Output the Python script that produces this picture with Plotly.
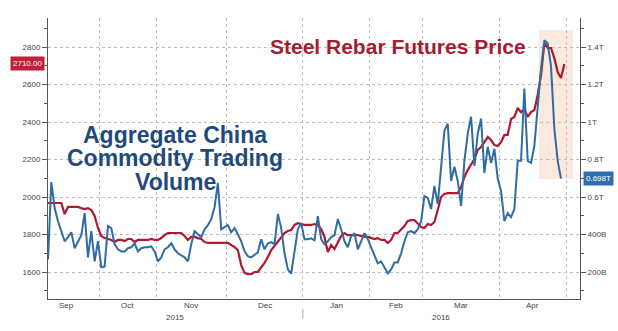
import numpy as np
import plotly.graph_objects as go

# ---------------- data ----------------
# x = trading-day index (day 0 = first plotted session, early Sep 2015)
months = ["Sep", "Oct", "Nov", "Dec", "Jan", "Feb", "Mar", "Apr"]
month_trading_days = [20, 17, 21, 23, 20, 16, 23, 20]
first_day_in_sep = 4          # data starts on the 5th trading day of September
years = ["2015", "2016"]

rebar_price = [
    1968, 1968, 1968, 1968, 1968, 1909, 1947, 1947, 1947, 1947,
    1941, 1936, 1941, 1931, 1899, 1835, 1792, 1781, 1776, 1771,
    1760, 1771, 1771, 1765, 1776, 1776, 1760, 1771, 1771, 1771,
    1771, 1776, 1771, 1771, 1781, 1797, 1808, 1808, 1808, 1808,
    1808, 1792, 1771, 1787, 1787, 1781, 1776, 1760, 1755, 1755,
    1755, 1755, 1755, 1755, 1755, 1744, 1733, 1717, 1637, 1595,
    1589, 1589, 1600, 1600, 1621, 1648, 1680, 1717, 1739, 1760,
    1781, 1808, 1819, 1824, 1851, 1861, 1856, 1851, 1851, 1851,
    1856, 1851, 1829, 1787, 1707, 1744, 1723, 1755, 1792, 1808,
    1797, 1797, 1797, 1797, 1792, 1787, 1787, 1781, 1776, 1781,
    1771, 1771, 1755, 1771, 1808, 1808, 1824, 1845, 1872, 1877,
    1877, 1856, 1840, 1835, 1856, 1851, 1867, 1931, 2000, 2016,
    2021, 2021, 2021, 2021, 2053, 2107, 2144, 2176, 2203, 2251,
    2267, 2293, 2320, 2304, 2277, 2272, 2293, 2331, 2331, 2416,
    2427, 2475, 2453, 2469, 2427, 2453, 2464, 2544, 2651, 2821,
    2795, 2795, 2741, 2667, 2635, 2710,
]

# aggregate commodity trading volume, trillions
trading_volume_t = [
    0.268, 0.680, 0.541, 0.471, 0.418, 0.364, 0.386, 0.412, 0.327, 0.359,
    0.396, 0.514, 0.278, 0.418, 0.257, 0.364, 0.225, 0.230, 0.445, 0.434,
    0.348, 0.321, 0.310, 0.310, 0.327, 0.332, 0.353, 0.310, 0.327, 0.332,
    0.332, 0.337, 0.310, 0.257, 0.278, 0.321, 0.332, 0.353, 0.321, 0.300,
    0.289, 0.278, 0.257, 0.348, 0.418, 0.402, 0.386, 0.428, 0.450, 0.482,
    0.546, 0.675, 0.428, 0.439, 0.450, 0.412, 0.434, 0.402, 0.364, 0.310,
    0.284, 0.278, 0.294, 0.305, 0.375, 0.321, 0.353, 0.359, 0.348, 0.509,
    0.434, 0.300, 0.214, 0.192, 0.310, 0.428, 0.461, 0.375, 0.375, 0.380,
    0.369, 0.498, 0.375, 0.348, 0.364, 0.386, 0.396, 0.482, 0.428, 0.364,
    0.332, 0.391, 0.407, 0.321, 0.364, 0.407, 0.375, 0.332, 0.284, 0.246,
    0.257, 0.225, 0.192, 0.214, 0.251, 0.251, 0.300, 0.364, 0.412, 0.418,
    0.407, 0.428, 0.471, 0.605, 0.595, 0.536, 0.659, 0.562, 0.766, 0.954,
    0.991, 0.686, 0.761, 0.686, 0.552, 0.793, 0.938, 1.029, 0.766, 0.938,
    1.018, 0.729, 0.868, 0.782, 0.857, 0.697, 0.632, 0.471, 0.514, 0.493,
    0.536, 0.793, 0.793, 1.179, 0.793, 0.782, 0.873, 1.072, 1.286, 1.436,
    1.420, 1.297, 0.965, 0.793, 0.698,
]

left_ticks = [1600, 1800, 2000, 2200, 2400, 2600, 2800]
right_ticks = [0.2, 0.4, 0.6, 0.8, 1.0, 1.2, 1.4]
right_tick_labels = ["200B", "400B", "0.6T", "0.8T", "1T", "1.2T", "1.4T"]

red_title = "Steel Rebar Futures Price"
blue_title_lines = ["Aggregate China", "Commodity Trading", "Volume"]

# ---------------- styling ----------------
RED = "#b0182f"
BLUE = "#2f6ca3"
TITLE_BLUE = "#1f4a7c"
GRID = "#bdbdbd"
AXIS = "#555555"
TEXT = "#444444"
FONT = "Liberation Sans, Arial, sans-serif"

Y_RANGE = [1456, 2955]
Y2_RANGE = [(Y_RANGE[0] - 1400) / 1000, (Y_RANGE[1] - 1400) / 1000]
X_RANGE = [0, 159.7]
HIGHLIGHT = dict(x0=147.4, x1=157.6, y0=2096, y1=2891)

# month boundaries (in trading-day index)
starts = np.concatenate([[0], np.cumsum(month_trading_days)]) - first_day_in_sep - 0.5
boundaries = starts[1:]
mids = (starts[:-1] + starts[1:]) / 2
jan_boundary = starts[months.index("Jan")]

days_red = np.arange(len(rebar_price))
days_blue = np.arange(len(trading_volume_t))

fig = go.Figure()
fig.add_trace(go.Scatter(x=days_blue, y=trading_volume_t, yaxis="y2", mode="lines",
                         line=dict(color=BLUE, width=2), showlegend=False))
fig.add_trace(go.Scatter(x=days_red, y=rebar_price, yaxis="y", mode="lines",
                         line=dict(color=RED, width=2.2), showlegend=False))

fig.add_shape(type="rect", xref="x", yref="y", layer="below", line=dict(width=0),
              fillcolor="#fbe9dd", **HIGHLIGHT)
fig.add_shape(type="line", xref="x", yref="paper", x0=jan_boundary, x1=jan_boundary,
              y0=-0.035, y1=-0.07, line=dict(color="#aaaaaa", width=1))

annotations = []
for m, xm in zip(months, mids):
    annotations.append(dict(x=max(xm, X_RANGE[0] + 4), y=0, xref="x", yref="paper", text=m,
                            showarrow=False, xanchor="center", yanchor="top", yshift=0,
                            font=dict(size=8, color=TEXT, family=FONT)))
year_centers = [(X_RANGE[0] + jan_boundary) / 2, (jan_boundary + X_RANGE[1]) / 2]
for yr, xc in zip(years, year_centers):
    annotations.append(dict(x=xc, y=0, xref="x", yref="paper", text=yr, showarrow=False,
                            xanchor="center", yanchor="top", yshift=-12,
                            font=dict(size=8, color=TEXT, family=FONT)))

annotations.append(dict(x=0.658, y=0.897, xref="paper", yref="paper",
                        text=f"<b>{red_title}</b>", showarrow=False,
                        xanchor="center", yanchor="middle",
                        font=dict(size=21, color="#a51c30", family=FONT)))
for i, line in enumerate(blue_title_lines):
    annotations.append(dict(x=0.239, y=0.585 - i * 0.084, xref="paper", yref="paper",
                            text=f"<b>{line}</b>", showarrow=False,
                            xanchor="center", yanchor="middle",
                            font=dict(size=23, color=TITLE_BLUE, family=FONT)))
annotations.append(dict(x=0, y=rebar_price[-1], xref="paper", yref="y",
                        text=f"{rebar_price[-1]:.2f}", showarrow=False,
                        xanchor="right", xshift=-3, bgcolor="#c0203a", borderpad=2,
                        font=dict(size=8, color="white", family=FONT)))
annotations.append(dict(x=1, y=trading_volume_t[-1], xref="paper", yref="y2",
                        text=f"{trading_volume_t[-1]:.3f}T", showarrow=False,
                        xanchor="left", xshift=3, bgcolor="#2f6fb0", borderpad=2,
                        font=dict(size=8, color="white", family=FONT)))

fig.update_layout(
    width=618, height=331,
    margin=dict(l=48, r=38, t=18, b=32),
    paper_bgcolor="white", plot_bgcolor="white",
    font=dict(family=FONT, size=8, color=TEXT),
    annotations=annotations,
    xaxis=dict(range=X_RANGE, tickmode="array", tickvals=list(boundaries),
               ticktext=[""] * len(boundaries), ticks="", showgrid=True,
               gridcolor=GRID, griddash="dot", gridwidth=1, zeroline=False,
               showline=True, linecolor=AXIS, linewidth=1),
    yaxis=dict(range=Y_RANGE, tickmode="array", tickvals=left_ticks, ticks="outside",
               ticklen=5, tickcolor=AXIS, showgrid=True, gridcolor=GRID,
               griddash="dot", zeroline=False, showline=True, linecolor=AXIS,
               linewidth=1, tickfont=dict(size=8, color=TEXT),
               minor=dict(tickmode="array", tickvals=list(range(1500, 3000, 200)),
                          ticks="outside", ticklen=3, tickcolor=AXIS, showgrid=False)),
    yaxis2=dict(range=Y2_RANGE, overlaying="y", side="right", anchor="x",
                tickmode="array", tickvals=right_ticks, ticktext=right_tick_labels,
                ticks="outside", ticklen=5, tickcolor=AXIS, showgrid=False,
                zeroline=False, showline=True, linecolor=AXIS, linewidth=1,
                tickfont=dict(size=8, color=TEXT),
                minor=dict(tickmode="array",
                           tickvals=[round(v, 2) for v in np.arange(0.1, 1.6, 0.2)],
                           ticks="outside", ticklen=3, tickcolor=AXIS, showgrid=False)),
)

fig.write_html("out.html")
